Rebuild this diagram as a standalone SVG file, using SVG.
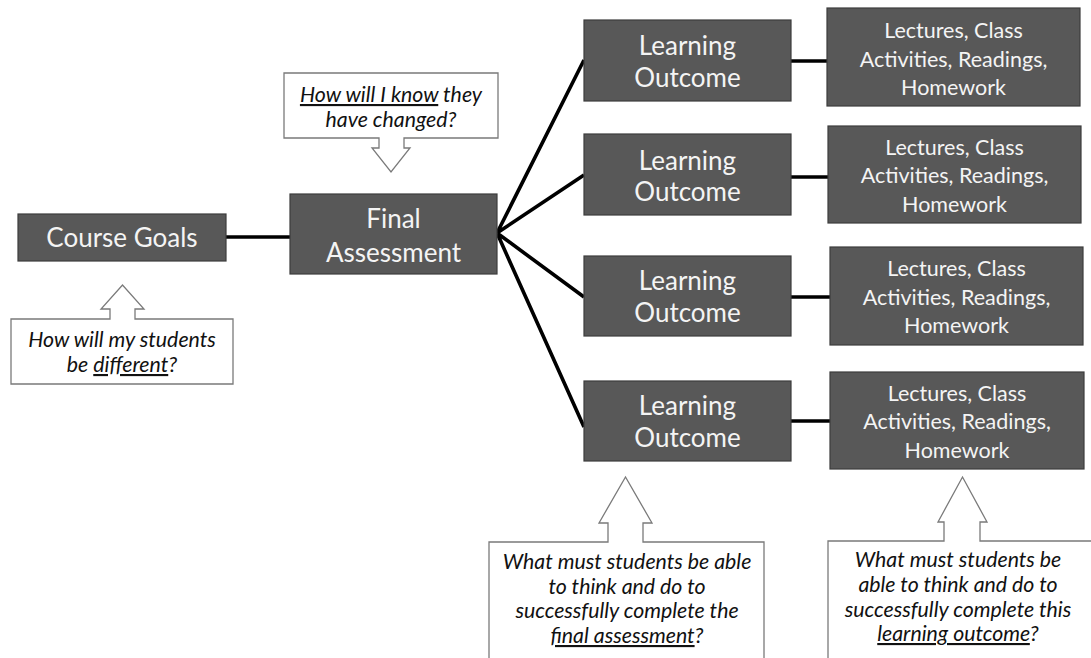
<svg xmlns="http://www.w3.org/2000/svg" width="1091" height="658" viewBox="0 0 1091 658">
  <style>
    .node { fill: #585858; stroke: #3c3c3c; stroke-width: 1.2; }
    .node-label { font-family: Lato, "Liberation Sans", sans-serif; fill: #f4f4f4; text-anchor: middle; }
    .big { font-size: 26px; }
    .small { font-size: 21.5px; }
    .link { stroke: #000; stroke-width: 3.6; fill: none; stroke-linecap: butt; }
    .callout { fill: #fff; stroke: #7a7a7a; stroke-width: 1.3; stroke-linejoin: miter; }
    .note { font-family: Lato, "Liberation Sans", sans-serif; font-style: italic; font-size: 21.3px; fill: #111; text-anchor: middle; }
    .u { text-decoration: underline; }
  </style>

  <!-- connectors -->
  <g id="connectors">
    <line class="link" x1="226" y1="237" x2="290" y2="237"/>
    <path class="link" d="M497,233 L584,60 M497,233 L584,175 M497,233 L584,297 M497,233 L584,427"/>
    <line class="link" x1="791" y1="61" x2="827" y2="61"/>
    <line class="link" x1="791" y1="177" x2="828" y2="177"/>
    <line class="link" x1="791" y1="297" x2="830" y2="297"/>
    <line class="link" x1="791" y1="421" x2="830" y2="421"/>
  </g>

  <!-- main chain -->
  <g id="course-goals">
    <rect class="node" x="18" y="214" width="208" height="47"/>
    <text class="node-label big" x="122" y="247">Course Goals</text>
  </g>

  <g id="final-assessment">
    <rect class="node" x="290" y="194" width="207" height="80"/>
    <text class="node-label big" x="393.5" y="228">Final</text>
    <text class="node-label big" x="393.5" y="262">Assessment</text>
  </g>

  <!-- learning outcomes -->
  <g id="outcome-1">
    <rect class="node" x="584" y="20" width="207" height="81"/>
    <text class="node-label big" x="687.5" y="55">Learning</text>
    <text class="node-label big" x="687.5" y="87">Outcome</text>
  </g>
  <g id="outcome-2">
    <rect class="node" x="584" y="134" width="207" height="81"/>
    <text class="node-label big" x="687.5" y="170">Learning</text>
    <text class="node-label big" x="687.5" y="201">Outcome</text>
  </g>
  <g id="outcome-3">
    <rect class="node" x="584" y="256" width="207" height="80"/>
    <text class="node-label big" x="687.5" y="290">Learning</text>
    <text class="node-label big" x="687.5" y="322">Outcome</text>
  </g>
  <g id="outcome-4">
    <rect class="node" x="584" y="381" width="207" height="80"/>
    <text class="node-label big" x="687.5" y="415">Learning</text>
    <text class="node-label big" x="687.5" y="447">Outcome</text>
  </g>

  <!-- activities -->
  <g id="activities-1">
    <rect class="node" x="827" y="8" width="253" height="98"/>
    <text class="node-label small" x="953.5" y="38">Lectures, Class</text>
    <text class="node-label small" x="953.5" y="67">Activities, Readings,</text>
    <text class="node-label small" x="953.5" y="95">Homework</text>
  </g>
  <g id="activities-2">
    <rect class="node" x="828" y="126" width="253" height="97"/>
    <text class="node-label small" x="954.5" y="155">Lectures, Class</text>
    <text class="node-label small" x="954.5" y="183">Activities, Readings,</text>
    <text class="node-label small" x="954.5" y="212">Homework</text>
  </g>
  <g id="activities-3">
    <rect class="node" x="830" y="247" width="253" height="98"/>
    <text class="node-label small" x="956.5" y="276">Lectures, Class</text>
    <text class="node-label small" x="956.5" y="305">Activities, Readings,</text>
    <text class="node-label small" x="956.5" y="333">Homework</text>
  </g>
  <g id="activities-4">
    <rect class="node" x="830" y="372" width="254" height="97"/>
    <text class="node-label small" x="957" y="401">Lectures, Class</text>
    <text class="node-label small" x="957" y="429">Activities, Readings,</text>
    <text class="node-label small" x="957" y="458">Homework</text>
  </g>

  <!-- question callouts -->
  <g id="note-change">
    <path class="callout" d="M284,73 H498 V138 H404 V148 H410 L391,172 L372,148 H379 V138 H284 Z"/>
    <text class="note" x="391" y="102"><tspan class="u">How will I know</tspan> they</text>
    <text class="note" x="391" y="127">have changed?</text>
  </g>

  <g id="note-different">
    <path class="callout" d="M11,319 H110 V309 H101 L122.5,285 L144,309 H135 V319 H233 V384 H11 Z"/>
    <text class="note" x="122" y="347">How will my students</text>
    <text class="note" x="122" y="372">be <tspan class="u">different</tspan>?</text>
  </g>

  <g id="note-final">
    <path class="callout" d="M489,542 H608 V523 H599 L625.5,477 L652,523 H643 V542 H764 V662 H489 Z"/>
    <text class="note" x="627" y="569">What must students be able</text>
    <text class="note" x="627" y="594">to think and do to</text>
    <text class="note" x="627" y="618">successfully complete the</text>
    <text class="note" x="627" y="643"><tspan class="u">final assessment</tspan>?</text>
  </g>

  <g id="note-outcome">
    <path class="callout" d="M828,541 H944 V522 H938 L962.5,477 L987,522 H980 V541 H1095 V662 H828 Z"/>
    <text class="note" x="958" y="567">What must students be</text>
    <text class="note" x="958" y="592">able to think and do to</text>
    <text class="note" x="958" y="617">successfully complete this</text>
    <text class="note" x="958" y="641"><tspan class="u">learning outcome</tspan>?</text>
  </g>
</svg>
